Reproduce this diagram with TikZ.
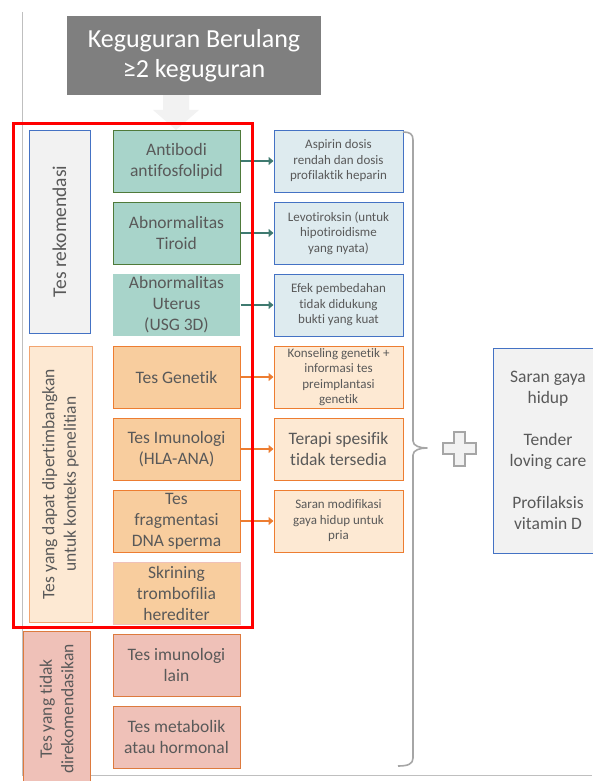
\documentclass[tikz,border=0pt]{standalone}
\usepackage{fontspec}
\setmainfont{Carlito}[Ligatures=NoCommon]
\usepackage{tikz}
\usetikzlibrary{arrows.meta,positioning}
\definecolor{txtgrey}{HTML}{595959}
\definecolor{titlegrey}{HTML}{7F7F7F}
\definecolor{linegrey}{HTML}{BFBFBF}
\definecolor{bracegrey}{HTML}{A6A6A6}
\definecolor{softgrey}{HTML}{F2F2F2}
\definecolor{officeblue}{HTML}{4472C4}
\definecolor{tealfill}{HTML}{A8D4CA}
\definecolor{tealline}{HTML}{4F7A3A}
\definecolor{tealarrow}{HTML}{3F7A70}
\definecolor{bluefill}{HTML}{DEEBEF}
\definecolor{orangeline}{HTML}{ED7D31}
\definecolor{orangefill}{HTML}{F8CD9E}
\definecolor{orangelight}{HTML}{FDE9D3}
\definecolor{pinkfill}{HTML}{EFC1B8}
\definecolor{pinkline}{HTML}{DD7A3E}

\begin{document}
\begin{tikzpicture}[x=1pt, y=-1pt,
  test/.style={draw, line width=1pt, minimum width=127pt, minimum height=62pt, inner xsep=1pt, inner ysep=0pt, align=center, text=txtgrey, font=\fontsize{17.5}{21}\selectfont},
  result/.style={test, minimum width=129pt, font=\fontsize{13}{15.5}\selectfont},
  group/.style={draw, line width=1pt, rotate=90, inner sep=1pt, align=center, text=txtgrey, font=\fontsize{17.5}{21.5}\selectfont},
  arr/.style={-{Triangle[length=5pt, width=8pt]}, line width=1.8pt},
  brace/.style={bracegrey, line width=1.6pt, line join=round}
]
  \useasboundingbox (0,0) rectangle (592,781);

  % table lines and faint arrow
  \draw[linegrey, line width=0.8pt] (22,12) -- (22,775) -- (592,775);
  \fill[softgrey] (163,95) -- (189,95) -- (189,110) -- (199,110) -- (176,130) -- (153,110) -- (163,110) -- cycle;

  \node[fill=titlegrey, minimum width=254pt, minimum height=79pt, align=center, text=white, font=\fontsize{26}{30}\selectfont] (title) at (194,55.5) {Keguguran Berulang\\≥2 keguguran};

  % left group labels
  \node[group, fill=softgrey, draw=officeblue, minimum width=203pt, minimum height=61pt, font=\fontsize{19.5}{23}\selectfont] (rek) at (59.5,231.5) {Tes rekomendasi};
  \node[group, fill=orangelight, draw=orangeline!70, minimum width=276pt, minimum height=63pt] (pert) at (60.5,484) {Tes yang dapat dipertimbangkan\\untuk konteks penelitian};
  \node[group, fill=pinkfill, draw=pinkline, minimum width=156pt, minimum height=67pt] (tidak) at (56.5,709) {Tes yang tidak\\direkomendasikan};

  % tests
  \node[test, fill=tealfill, draw=tealline] (apl) at (176.5,161) {Antibodi\\antifosfolipid};
  \node[test, fill=tealfill, draw=tealline, below=9pt of apl] (tir) {Abnormalitas\\Tiroid};
  \node[test, fill=tealfill, draw=none, below=9pt of tir] (ute) {Abnormalitas\\Uterus\\(USG 3D)};
  \node[test, fill=orangefill, draw=orangeline, below=9pt of ute] (gen) {Tes Genetik};
  \node[test, fill=orangefill, draw=orangeline, below=9pt of gen] (imu) {Tes Imunologi\\(HLA-ANA)};
  \node[test, fill=orangefill, draw=orangeline, below=9pt of imu] (dna) {Tes\\fragmentasi\\DNA sperma};
  \node[test, fill=orangefill, draw=pinkfill, below=9pt of dna] (trb) {Skrining\\trombofilia\\herediter};
  \node[test, fill=pinkfill, draw=pinkline, below=9pt of trb] (imlain) {Tes imunologi\\lain};
  \node[test, fill=pinkfill, draw=pinkline, below=9pt of imlain] (meta) {Tes metabolik\\atau hormonal};

  % management
  \node[result, fill=bluefill, draw=officeblue, right=33pt of apl] (asp) {Aspirin dosis\\rendah dan dosis\\profilaktik heparin};
  \node[result, fill=bluefill, draw=officeblue, right=33pt of tir] (levo) {Levotiroksin (untuk\\hipotiroidisme\\yang nyata)};
  \node[result, fill=bluefill, draw=officeblue, right=33pt of ute] (efek) {Efek pembedahan\\tidak didukung\\bukti yang kuat};
  \node[result, fill=orangelight, draw=orangeline, right=33pt of gen] (kons) {Konseling genetik +\\informasi tes\\preimplantasi\\genetik};
  \node[result, fill=orangelight, draw=orangeline, right=33pt of imu, font=\fontsize{17.5}{21.5}\selectfont] (terapi) {Terapi spesifik\\tidak tersedia};
  \node[result, fill=orangelight, draw=orangeline, right=33pt of dna] (saran) {Saran modifikasi\\gaya hidup untuk\\pria};

  \draw[arr, tealarrow] (apl) -- (asp);
  \draw[arr, tealarrow] (tir) -- (levo);
  \draw[arr, tealarrow] (ute) -- (efek);
  \draw[arr, orangeline] (gen) -- (kons);
  \draw[arr, orangeline] (imu) -- (terapi);
  \draw[arr, orangeline] (dna) -- (saran);

  % brace, plus and general care
  \draw[brace] (403,132) .. controls (410,132) and (413,134) .. (413,140) -- (413,441)
    .. controls (413,446) and (420,448) .. (427,448) .. controls (420,448) and (413,450) .. (413,455)
    -- (413,758) .. controls (413,764) and (408,766) .. (398,766);
  \draw[bracegrey, fill=softgrey, line width=1.4pt] (454,432) -- (465,432) -- (465,443) -- (476,443) -- (476,454) -- (465,454) -- (465,466) -- (454,466) -- (454,454) -- (443,454) -- (443,443) -- (454,443) -- cycle;
  \node[test, fill=softgrey, draw=officeblue, minimum width=110pt, minimum height=205pt] (care) at (548,450.5) {Saran gaya\\hidup\\[21pt]Tender\\loving care\\[21pt]Profilaksis\\vitamin D};

  % highlight
  \draw[red, line width=3pt] (13,124) rectangle (252,627);
\end{tikzpicture}
\end{document}
